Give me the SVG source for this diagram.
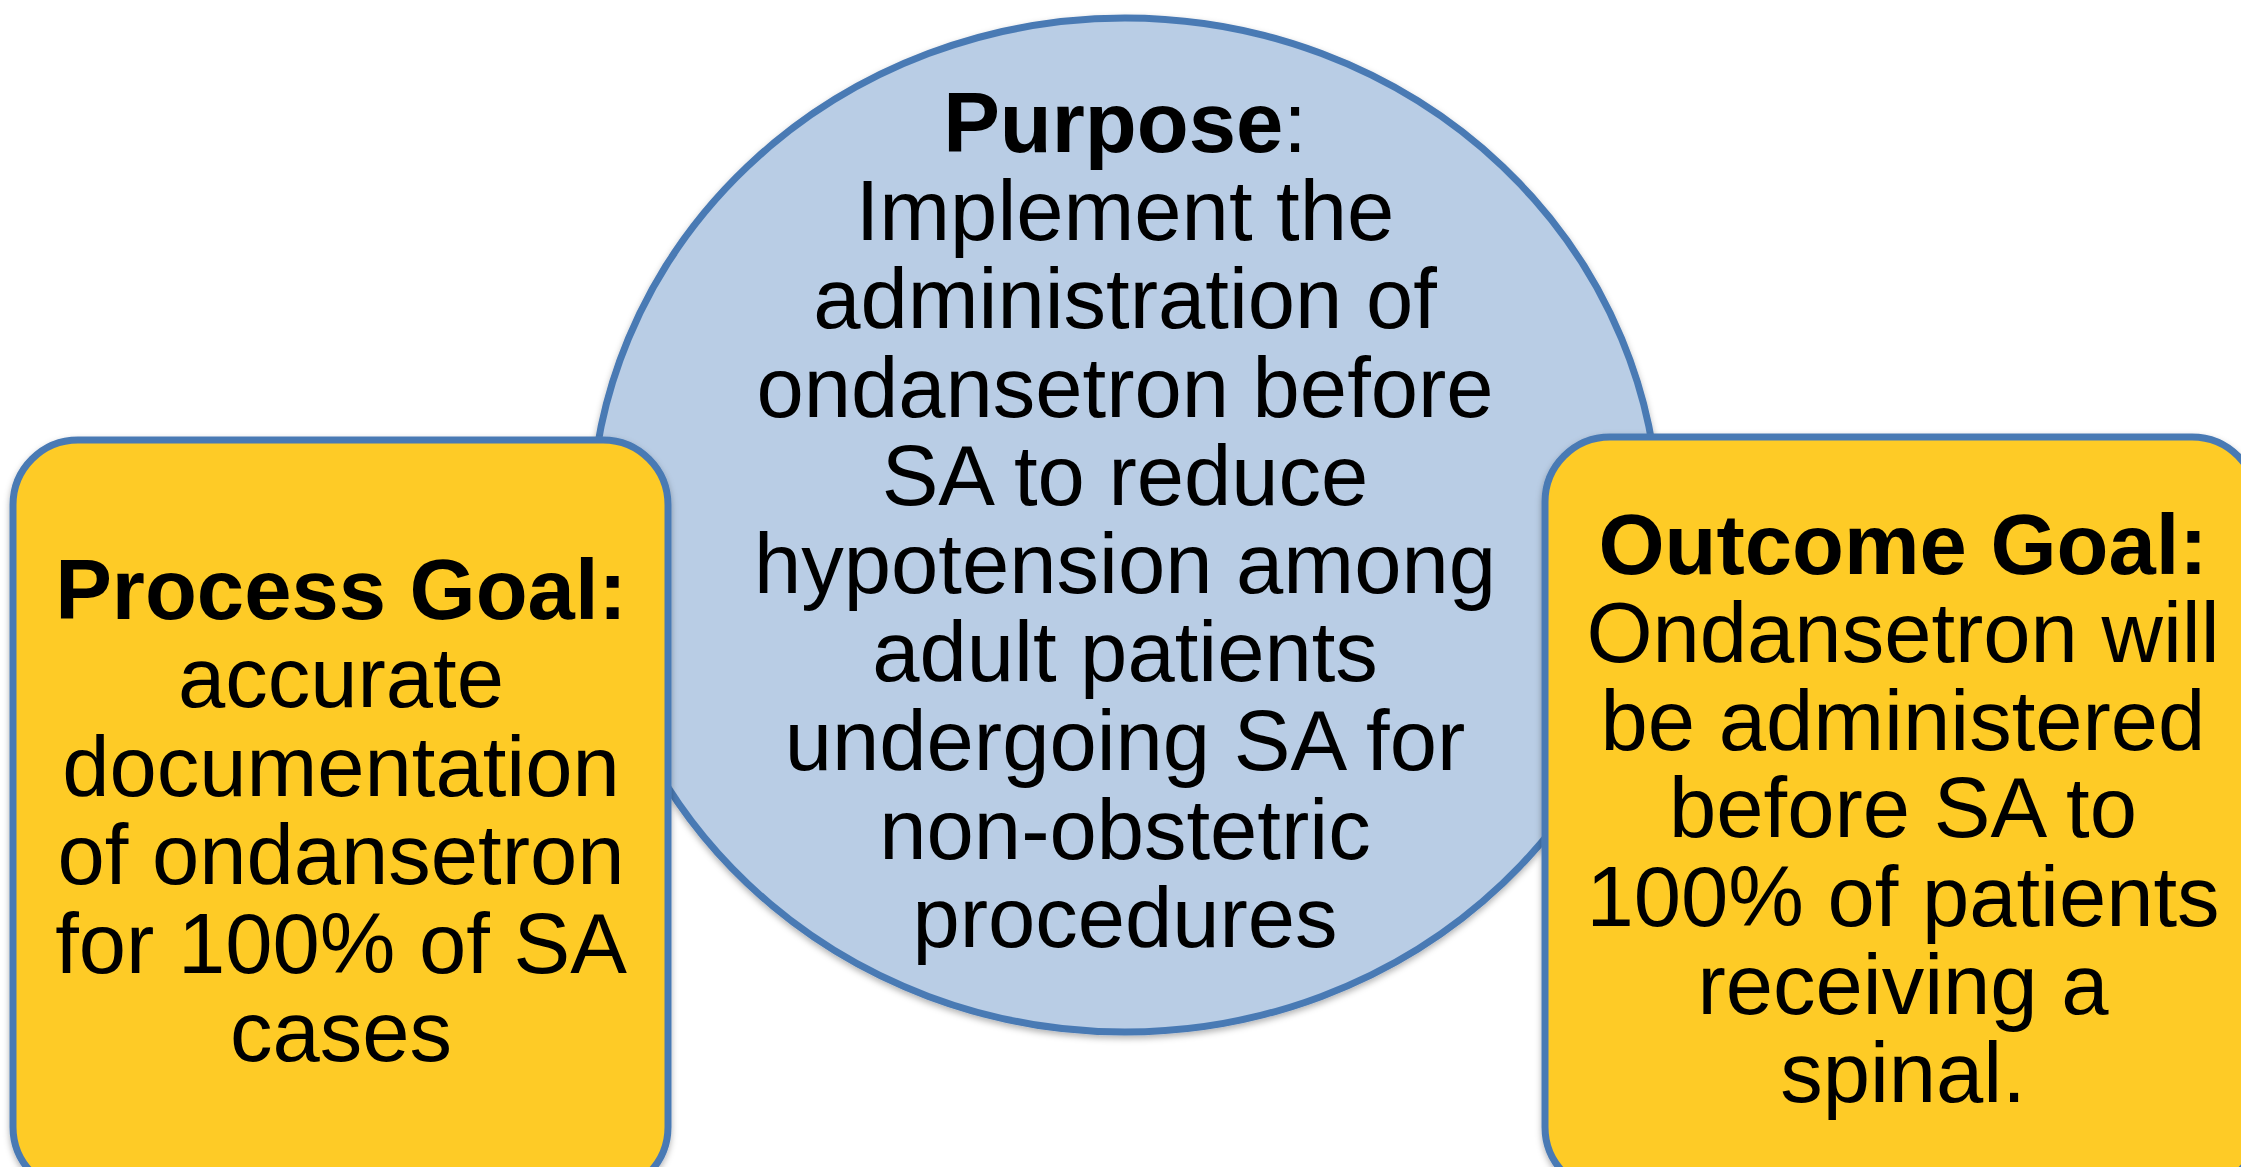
<svg xmlns="http://www.w3.org/2000/svg" width="2241" height="1167" viewBox="0 0 2241 1167">
  <defs>
    <filter id="shadow" x="-10%" y="-10%" width="120%" height="120%">
      <feDropShadow dx="0" dy="3" stdDeviation="3" flood-color="#000000" flood-opacity="0.3"/>
    </filter>
  </defs>
  <style>
    .circle { fill: #B9CDE5; stroke: #4A7AB4; stroke-width: 7; }
    .box { fill: #FECB26; stroke: #4A7AB4; stroke-width: 7; }
    .t { font-family: "Liberation Sans", Arial, sans-serif; font-size: 85px; fill: #000000; text-anchor: middle; }
    .b { font-weight: bold; }
  </style>
  <rect width="2241" height="1167" fill="#FFFFFF"/>
  <g id="connectors"></g>
  <g id="purpose">
    <ellipse class="circle" cx="1125" cy="525" rx="534" ry="507" filter="url(#shadow)"/>
    <text class="t" x="1125" y="152"><tspan class="b">Purpose</tspan>:</text>
    <text class="t" x="1125" y="240">Implement the</text>
    <text class="t" x="1125" y="328">administration of</text>
    <text class="t" x="1125" y="417">ondansetron before</text>
    <text class="t" x="1125" y="505">SA to reduce</text>
    <text class="t" x="1125" y="593">hypotension among</text>
    <text class="t" x="1125" y="681">adult patients</text>
    <text class="t" x="1125" y="770">undergoing SA for</text>
    <text class="t" x="1125" y="859">non-obstetric</text>
    <text class="t" x="1125" y="947">procedures</text>
  </g>
  <g id="process-goal">
    <rect class="box" x="13" y="440" width="655" height="752" rx="65" ry="65" filter="url(#shadow)"/>
    <text class="t b" x="341" y="619">Process Goal:</text>
    <text class="t" x="341" y="707">accurate</text>
    <text class="t" x="341" y="796">documentation</text>
    <text class="t" x="341" y="884">of ondansetron</text>
    <text class="t" x="341" y="973">for 100% of SA</text>
    <text class="t" x="341" y="1061">cases</text>
  </g>
  <g id="outcome-goal">
    <rect class="box" x="1545" y="437" width="712" height="755" rx="65" ry="65" filter="url(#shadow)"/>
    <text class="t b" x="1903" y="574">Outcome Goal:</text>
    <text class="t" x="1903" y="662">Ondansetron will</text>
    <text class="t" x="1903" y="750">be administered</text>
    <text class="t" x="1903" y="837">before SA to</text>
    <text class="t" x="1903" y="926">100% of patients</text>
    <text class="t" x="1903" y="1014">receiving a</text>
    <text class="t" x="1903" y="1102">spinal.</text>
  </g>
</svg>
